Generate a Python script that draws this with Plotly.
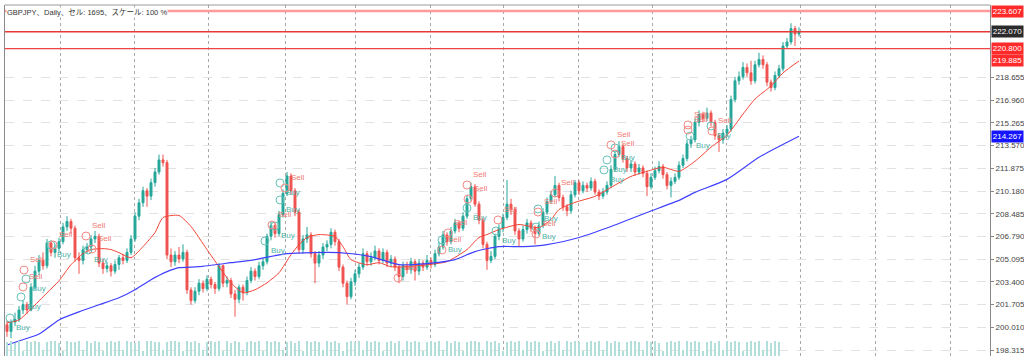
import plotly.graph_objects as go

# ---------------- data ----------------
opens = [200.2,199.7,200.4,200.6,201.3,201.7,201.3,203.0,204.2,205.0,
         204.6,206.3,205.6,205.9,206.4,207.5,207.9,207.4,205.2,205.0,
         205.8,206.0,206.6,206.8,204.8,204.4,204.6,204.2,204.7,205.2,
         205.0,205.6,206.6,208.3,209.3,210.2,209.8,210.8,211.6,212.5,
         212.3,205.4,204.9,205.4,205.1,205.6,202.8,202.0,202.7,203.3,
         202.9,203.6,203.2,202.9,204.6,203.3,203.5,202.5,202.1,203.0,
         202.6,203.5,204.2,203.8,204.6,204.9,206.8,207.6,207.0,208.4,
         210.0,211.3,210.2,208.6,205.8,206.6,206.9,205.5,204.8,205.4,
         206.0,206.2,207.1,206.4,204.5,203.3,202.3,203.4,204.0,204.5,
         205.5,204.9,205.2,205.7,205.0,205.6,204.8,205.1,204.5,203.8,
         204.6,204.3,204.9,204.2,204.8,204.5,205.0,204.7,205.5,206.0,
         206.9,206.4,207.2,207.8,207.4,208.3,209.6,210.5,209.2,208.0,
         206.2,205.0,205.3,206.8,207.4,208.2,209.2,208.8,207.2,206.6,
         207.3,207.8,207.4,207.0,207.6,208.6,209.4,209.9,210.6,209.7,
         209.0,208.7,209.9,210.8,210.2,210.6,210.4,210.9,210.1,209.8,
         210.1,210.6,211.8,212.9,213.5,212.6,211.9,212.2,211.6,211.9,
         211.5,210.5,211.2,211.7,212.0,211.4,210.6,210.9,211.2,212.1,
         212.6,213.7,214.0,215.3,215.9,215.6,216.0,215.3,214.3,214.0,
         214.5,214.8,217.0,218.4,218.7,219.4,219.0,218.4,219.6,220.0,
         219.6,218.3,217.9,218.8,219.3,221.0,221.3,222.3,221.9]
highs = [200.5,200.6,201.1,201.6,202.0,201.9,203.3,204.6,205.4,205.6,
         206.6,206.5,206.2,206.7,207.8,208.3,208.1,207.6,205.6,206.1,
         206.3,206.9,207.2,207.0,205.1,204.9,204.8,205.0,205.4,205.5,
         205.9,206.9,208.6,209.6,210.5,210.4,211.1,211.9,212.9,212.9,
         212.5,205.9,205.7,206.0,206.2,205.8,203.0,203.0,203.6,203.5,
         203.9,203.8,203.4,204.8,204.7,203.8,203.7,202.8,203.2,203.2,
         203.8,204.5,204.4,204.9,205.2,207.0,207.9,207.8,208.7,210.3,
         211.6,211.5,210.4,208.8,206.9,207.5,207.1,205.7,205.7,206.3,
         206.5,207.4,207.3,206.6,204.7,203.5,203.7,204.3,204.8,205.9,
         205.7,205.6,206.1,205.9,205.9,205.8,205.4,205.3,204.7,204.9,
         204.9,205.2,205.1,205.1,205.0,205.4,205.2,205.8,206.4,207.2,
         207.1,207.5,208.1,208.0,208.6,209.9,210.8,210.7,209.4,208.2,
         206.4,205.7,207.0,207.7,208.5,211.0,209.6,209.0,207.4,207.6,
         208.1,208.0,207.6,207.9,208.9,209.7,210.2,211.3,210.8,209.9,
         209.2,210.2,211.0,211.0,210.9,210.8,211.2,211.1,210.3,210.4,
         210.9,212.1,213.2,213.9,213.7,212.8,212.5,212.4,212.2,212.1,
         211.7,211.5,212.0,212.4,212.2,211.6,211.2,211.5,212.4,212.9,
         214.0,214.3,215.6,216.2,216.1,216.4,216.2,215.5,214.5,214.8,
         215.1,217.3,218.7,219.1,219.8,219.7,219.9,219.9,220.5,220.3,
         219.8,218.5,219.1,219.6,221.3,221.6,222.7,222.5,222.4]
lows = [199.3,199.2,200.1,200.4,201.0,201.0,201.2,202.8,203.9,204.3,
        204.4,205.3,205.2,205.6,206.2,207.2,207.0,204.9,204.0,204.7,
        205.5,205.7,206.3,204.5,204.0,204.1,203.8,204.0,204.3,204.7,
        204.8,205.4,206.4,208.0,209.0,209.0,209.5,210.5,211.4,212.0,
        205.1,204.5,204.6,204.8,204.9,202.5,201.7,201.8,202.4,202.6,
        202.7,202.9,202.5,202.7,203.0,203.0,202.2,200.8,201.8,202.0,
        202.4,203.3,203.5,203.6,204.3,204.7,206.5,206.7,206.8,208.2,
        209.8,209.9,208.3,205.5,205.5,206.3,205.2,203.3,204.5,205.1,
        205.7,205.9,206.1,204.2,203.0,201.7,202.1,203.1,203.7,204.3,
        204.6,204.6,205.0,204.7,204.8,204.5,204.5,204.2,203.3,203.5,
        204.0,204.0,203.5,203.9,204.2,204.3,204.4,204.5,205.3,205.8,
        206.1,206.2,207.0,207.1,207.2,208.1,209.4,209.0,207.7,205.9,
        204.3,204.8,205.1,206.5,207.1,208.0,208.4,206.9,206.0,206.4,
        207.0,207.1,206.2,206.8,207.4,208.4,209.2,209.7,209.4,208.7,
        208.3,208.5,209.7,209.9,210.0,210.1,210.2,209.9,209.5,209.6,
        209.9,210.4,211.6,212.7,212.3,211.6,211.6,211.3,211.4,211.2,
        209.8,210.3,211.0,211.5,211.1,210.3,209.7,210.7,211.0,211.9,
        212.4,213.4,213.8,215.0,215.3,215.4,215.0,214.0,213.1,213.7,
        214.2,214.6,216.8,218.1,218.5,218.7,218.1,218.2,219.4,219.3,
        218.0,217.6,217.7,218.6,219.1,220.8,221.1,221.0,221.7]
closes = [199.7,200.4,200.6,201.3,201.7,201.3,203.0,204.2,205.0,204.6,
          206.3,205.6,205.9,206.4,207.5,207.9,207.4,205.2,205.0,205.8,
          206.0,206.6,206.8,204.8,204.4,204.6,204.2,204.7,205.2,205.0,
          205.6,206.6,208.3,209.3,210.2,209.8,210.8,211.6,212.5,212.3,
          205.4,204.9,205.4,205.1,205.6,202.8,202.0,202.7,203.3,202.9,
          203.6,203.2,202.9,204.6,203.3,203.5,202.5,202.1,203.0,202.6,
          203.5,204.2,203.8,204.6,204.9,206.8,207.6,207.0,208.4,210.0,
          211.3,210.2,208.6,205.8,206.6,206.9,205.5,204.8,205.4,206.0,
          206.2,207.1,206.4,204.5,203.3,202.3,203.4,204.0,204.5,205.5,
          204.9,205.2,205.7,205.0,205.6,204.8,205.1,204.5,203.8,204.6,
          204.3,204.9,204.2,204.8,204.5,205.0,204.7,205.5,206.0,206.9,
          206.4,207.2,207.8,207.4,208.3,209.6,210.5,209.2,208.0,206.2,
          205.0,205.3,206.8,207.4,208.2,209.2,208.8,207.2,206.6,207.3,
          207.8,207.4,207.0,207.6,208.6,209.4,209.9,210.6,209.7,209.0,
          208.7,209.9,210.8,210.2,210.6,210.4,210.9,210.1,209.8,210.1,
          210.6,211.8,212.9,213.5,212.6,211.9,212.2,211.6,211.9,211.5,
          210.5,211.2,211.7,212.0,211.4,210.6,210.9,211.2,212.1,212.6,
          213.7,214.0,215.3,215.9,215.6,216.0,215.3,214.3,214.0,214.5,
          214.8,217.0,218.4,218.7,219.4,219.0,218.4,219.6,220.0,219.6,
          218.3,217.9,218.8,219.3,221.0,221.3,222.3,221.9,222.07]
volumes = [13,14,12,14,5, 14,13,14,13,6, 13,14,14,12,5, 14,13,13,14,6,
           14,12,14,13,5, 13,14,13,14,6, 14,13,12,14,5, 14,14,13,13,6,
           13,14,14,13,5, 14,13,14,12,6, 13,14,13,14,5, 14,12,14,13,6,
           13,14,13,14,5, 14,13,14,13,6, 13,14,12,14,5, 14,13,14,13,6,
           14,13,14,12,5, 13,14,13,14,6, 14,13,14,13,5, 13,14,12,14,6,
           14,13,14,13,5, 13,14,13,14,6, 14,12,14,13,5, 13,14,14,13,6,
           14,13,14,12,5, 13,14,13,14,6, 14,13,14,13,5, 13,14,12,14,6,
           14,13,14,13,5, 13,14,13,14,6, 14,12,14,13,5, 13,14,14,13,6,
           14,13,14,12,5, 13,14,13,14,6, 14,13,14,13,5, 13,14,12,14,6,
           14,13,14,13,5, 13,14,13,14,6, 14,12,14,13]
bars = list(range(len(closes)))

# moving averages (red = fast, blue = slow), read at selected bars
ma_fast_idx = [0,3,6,10,13,16,19,21,24,26,28,31,34,37,39,43,46,50,53,56,
               59,62,65,68,71,73,75,78,82,84,86,90,93,96,100,105,110,115,118,120,
               123,128,133,136,138,142,147,151,156,160,164,168,172,176,180,184,187,191,194,198]
ma_fast_val = [200.34,200.56,201.38,202.58,203.48,204.68,205.51,205.81,205.88,205.81,
               205.58,205.20,206.03,207.08,208.20,208.35,207.53,205.81,204.53,203.33,
               202.58,202.81,203.33,204.08,205.43,206.18,206.71,206.93,206.78,206.03,
               205.06,204.68,204.83,204.53,204.53,204.68,204.91,205.81,206.71,206.93,
               207.30,207.68,207.45,208.05,208.80,209.33,209.78,210.45,211.27,211.65,
               211.95,211.65,212.40,213.45,214.35,215.92,217.04,218.02,218.99,219.885]
ma_slow_idx = [0,3,8,13,18,23,28,32,36,40,43,48,56,62,70,83,91,98,105,112,
               117,123,129,135,143,151,160,168,172,180,188,198]
ma_slow_val = [198.69,198.99,199.51,200.56,201.16,201.69,202.21,202.81,203.56,204.16,
               204.46,204.53,204.83,205.06,205.51,205.58,205.28,204.68,204.76,205.06,
               205.66,206.03,206.03,206.18,206.71,207.53,208.58,209.48,210.08,211.05,
               212.70,214.267]

# Buy / Sell signal points
buy_idx = [0.75,3.5,4.75,11,20.25,68.25,68.25,67,64.5,115,122.25,132.25,132.75,152,150,149.25,170.75,176,108.75]
buy_val = [200.70,202.27,203.61,206.15,205.78,210.78,209.51,207.57,206.45,208.91,207.2,207.49,208.84,213.39,212.5,211.75,214.28,215.03,206.52]
sell_idx = [4,4.25,11.5,19.75,21.25,69.5,66.25,115,115.25,97.75,110.25,108.75,122.75,132.25,132.75,137,151,152,170.25,170.25,176.25]
sell_val = [203.02,204.28,206.15,206.82,205.85,210.4,207.64,210.63,209.58,203.69,207.05,205.78,208.02,206.97,208.61,210.03,213.62,212.94,215.11,214.73,214.66]

# axis ticks
y_ticks = [198.315,200.010,201.705,203.400,205.095,206.790,208.485,210.180,211.875,213.570,215.265,216.960,218.655]
v_grid = [13.25,31.75,50.25,69.5,87,105.75,124,142.75,161.25,179.75,198.25,217,235.75]

# horizontal levels and price tags
level_vals = [223.607, 222.070, 220.800]
level_cols = ["#ff9a9a", "#e53935", "#ef4444"]
level_widths = [2.5, 1.5, 1.2]
tag_vals = [223.607, 222.070, 220.800, 219.885, 214.267]
tag_cols = ["#ff2b2b", "#2b2b2b", "#ff2b2b", "#ff2b2b", "#1414ff"]

TEAL = "#26a69a"
RED = "#ef5350"
FONT = "Liberation Sans, Arial, Noto Sans CJK JP, sans-serif"

fig = go.Figure()

fig.add_trace(go.Bar(x=bars, y=volumes, yaxis="y2", width=0.35,
                     marker=dict(color="#b2dfdb", line=dict(width=0)),
                     hoverinfo="skip", showlegend=False))

fig.add_trace(go.Candlestick(
    x=bars, open=opens, high=highs, low=lows, close=closes,
    increasing=dict(line=dict(color=TEAL, width=1), fillcolor=TEAL),
    decreasing=dict(line=dict(color=RED, width=1), fillcolor=RED),
    whiskerwidth=0, showlegend=False))

fig.add_trace(go.Scatter(x=ma_fast_idx, y=ma_fast_val, mode="lines",
                         line=dict(color="#f44336", width=1, shape="spline", smoothing=0.6),
                         showlegend=False, hoverinfo="skip"))
fig.add_trace(go.Scatter(x=ma_slow_idx, y=ma_slow_val, mode="lines",
                         line=dict(color="#4040ff", width=1.2, shape="spline", smoothing=0.6),
                         showlegend=False, hoverinfo="skip"))

fig.add_trace(go.Scatter(x=buy_idx, y=buy_val, mode="markers+text",
                         marker=dict(symbol="circle-open", size=8, color="#66c2b8", line=dict(width=1)),
                         text=["Buy"] * len(buy_idx), textposition="bottom right",
                         textfont=dict(family=FONT, size=8, color="#4fb3a8"),
                         showlegend=False, hoverinfo="skip"))
fig.add_trace(go.Scatter(x=sell_idx, y=sell_val, mode="markers+text",
                         marker=dict(symbol="circle-open", size=8, color="#f28a85", line=dict(width=1)),
                         text=["Sell"] * len(sell_idx), textposition="top right",
                         textfont=dict(family=FONT, size=8, color="#f07a72"),
                         showlegend=False, hoverinfo="skip"))

shapes = []
for v, c, w in zip(level_vals, level_cols, level_widths):
    shapes.append(dict(type="line", xref="paper", x0=0, x1=1, yref="y", y0=v, y1=v,
                       line=dict(color=c, width=w), layer="above"))
# top border
shapes.append(dict(type="line", xref="paper", x0=0, x1=1, yref="paper", y0=1, y1=1,
                   line=dict(color="#9a9a9a", width=1)))

annotations = [dict(text="GBPJPY、Daily、セル: 1695、スケール: 100 %", xref="paper", yref="paper",
                    x=0.001, y=0.978, xanchor="left", yanchor="middle", showarrow=False,
                    font=dict(family=FONT, size=7.5, color="#333333"), bgcolor="white", borderpad=0)]
for v, c in zip(tag_vals, tag_cols):
    annotations.append(dict(text=f"{v:.3f}", xref="paper", yref="y", x=1, y=v, xshift=1,
                            xanchor="left", yanchor="middle", showarrow=False,
                            font=dict(family=FONT, size=8, color="white"),
                            bgcolor=c, borderpad=0, width=31, height=11, align="center"))

fig.update_layout(
    width=1024, height=356,
    margin=dict(l=5, r=34, t=5, b=0, autoexpand=False),
    paper_bgcolor="white", plot_bgcolor="white",
    showlegend=False, bargap=0,
    shapes=shapes, annotations=annotations,
    xaxis=dict(range=[-0.5, 245.75], rangeslider=dict(visible=False),
               tickvals=v_grid, showticklabels=False, ticks="",
               showgrid=True, gridcolor="#a8a8a8", griddash="dot", gridwidth=1,
               zeroline=False, showline=False, fixedrange=True, automargin=False),
    yaxis=dict(range=[197.867, 224.061], side="right", automargin=False,
               tickvals=y_ticks, tickformat=".3f", ticks="outside", ticklen=3,
               tickcolor="#888888", tickfont=dict(family=FONT, size=8, color="#444444"),
               ticklabelstandoff=0,
               showgrid=True, gridcolor="#e2e2e2", griddash="dash", gridwidth=1,
               showline=True, mirror=True, linecolor="#8a8a8a", linewidth=1,
               zeroline=False),
    yaxis2=dict(range=[0, 330], overlaying="y", visible=False, fixedrange=True),
)

fig.write_html("out.html", config={"displayModeBar": False},
               post_script="document.body.style.margin='0px';document.body.style.overflow='hidden';")
